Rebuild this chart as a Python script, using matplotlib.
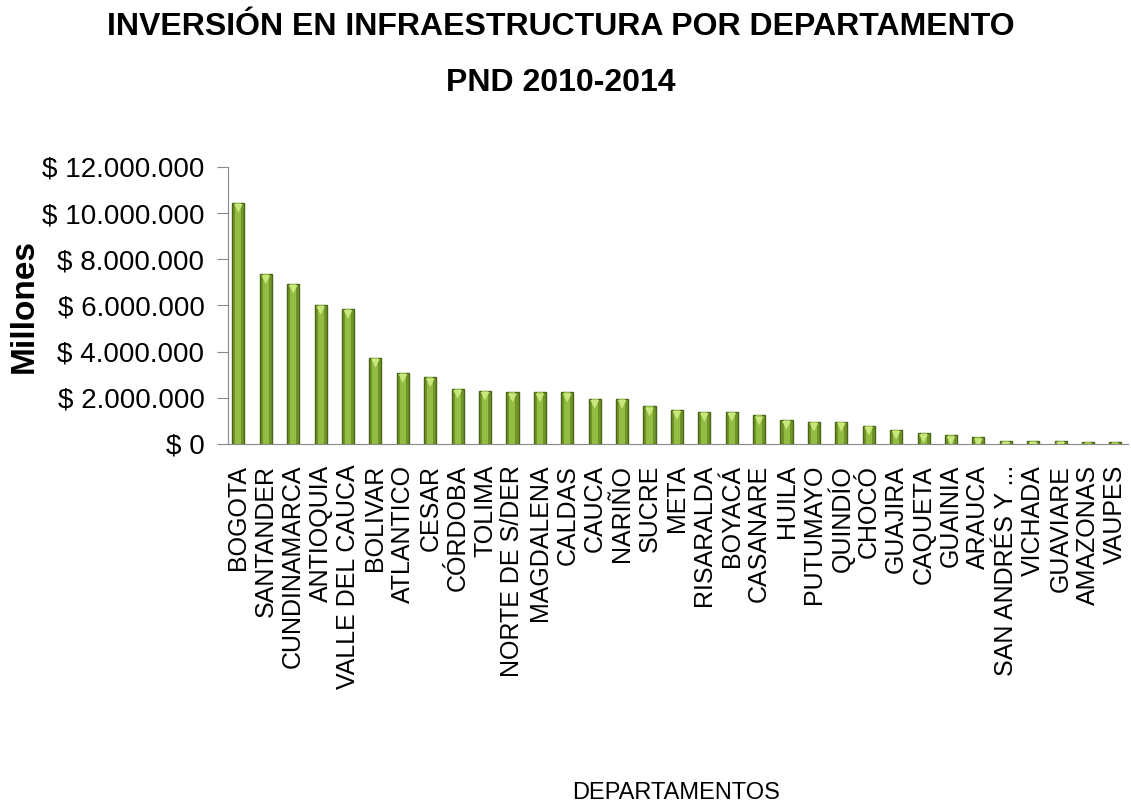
import matplotlib.pyplot as plt
from matplotlib.ticker import FuncFormatter, MultipleLocator
from matplotlib.transforms import offset_copy

plt.rcParams['font.family'] = ['Liberation Sans', 'DejaVu Sans']

# datos (millones de pesos)
departamentos = ['BOGOTA', 'SANTANDER', 'CUNDINAMARCA', 'ANTIOQUIA', 'VALLE DEL CAUCA',
                 'BOLIVAR', 'ATLANTICO', 'CESAR', 'CÓRDOBA', 'TOLIMA', 'NORTE DE S/DER',
                 'MAGDALENA', 'CALDAS', 'CAUCA', 'NARIÑO', 'SUCRE', 'META', 'RISARALDA',
                 'BOYACÁ', 'CASANARE', 'HUILA', 'PUTUMAYO', 'QUINDÍO', 'CHOCÓ', 'GUAJIRA',
                 'CAQUETA', 'GUAINIA', 'ARAUCA', 'SAN ANDRÉS Y ...', 'VICHADA', 'GUAVIARE',
                 'AMAZONAS', 'VAUPES']
inversion = [10450000, 7360000, 6940000, 6020000, 5850000,
             3740000, 3080000, 2890000, 2390000, 2310000, 2240000,
             2240000, 2240000, 1960000, 1960000, 1630000, 1480000, 1400000,
             1400000, 1240000, 1050000, 970000, 970000, 800000, 620000,
             470000, 380000, 290000, 140000, 140000, 140000,
             70000, 70000]

titulo = 'INVERSIÓN EN INFRAESTRUCTURA POR DEPARTAMENTO'
subtitulo = 'PND 2010-2014'


def pesos(v, pos):
    return '$ ' + f'{int(v):,}'.replace(',', '.')


fig = plt.figure(figsize=(11.31, 8.09), dpi=100)
ax = fig.add_axes([0.2016, 0.4512, 0.7955, 0.3424])

x = range(len(departamentos))
# barra principal con borde oscuro
ax.bar(x, inversion, width=0.44, color='#6f9428', edgecolor='#4a6418', linewidth=1.0, zorder=2)
# franja clara central para dar volumen
ax.bar(x, inversion, width=0.22, color='#93bd42', linewidth=0, zorder=3)
# triangulo claro en la parte superior de cada barra
tri = offset_copy(ax.transData, fig=fig, x=0, y=-4, units='points')
ax.scatter(x, inversion, marker='v', s=40, color='#c9e77c', edgecolors='none', zorder=4,
           transform=tri)

ax.set_ylim(0, 12000000)
ax.set_xlim(-0.38, 32.45)
ax.yaxis.set_major_locator(MultipleLocator(2000000))
ax.yaxis.set_major_formatter(FuncFormatter(pesos))

ax.set_xticks(list(x))
ax.set_xticklabels(departamentos, rotation=90, fontsize=18, va='top', ha='center')
ax.tick_params(axis='x', length=0, pad=15)
ax.tick_params(axis='y', labelsize=20, length=8, color='#888888', pad=9)

for s in ['top', 'right']:
    ax.spines[s].set_visible(False)
ax.spines['left'].set_color('#888888')
ax.spines['bottom'].set_color('#888888')

fig.text(0.021, 0.622, 'Millones', rotation=90, fontsize=24, fontweight='bold',
         ha='center', va='center')

fig.text(0.496, 0.9665, titulo, fontsize=23, fontweight='bold', ha='center', va='center')
fig.text(0.496, 0.8975, subtitulo, fontsize=23, fontweight='bold', ha='center', va='center')

fig.text(0.598, 0.0335, 'DEPARTAMENTOS', fontsize=17, ha='center', va='top')

plt.savefig('out.png', dpi=100)
